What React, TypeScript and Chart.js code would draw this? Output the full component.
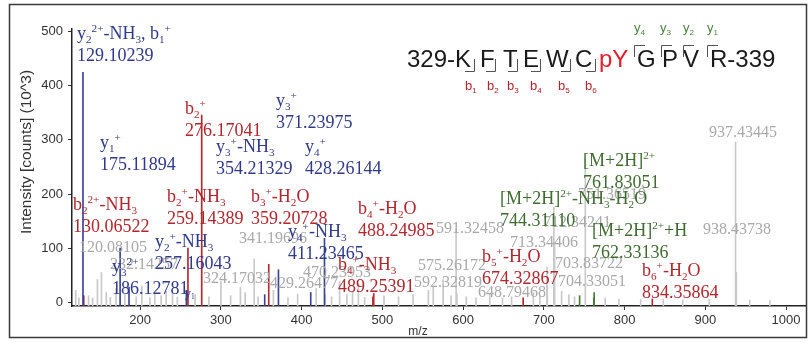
import React, { useEffect, useRef } from 'react';
import { Chart, registerables } from 'chart.js';
Chart.register(...registerables);

// ---------- axis ranges / ticks ----------
const X_MIN = 115.5;
const X_MAX = 1023.5;
const Y_MIN = -7;
const Y_MAX = 505;
const X_TICKS = [200, 300, 400, 500, 600, 700, 800, 900, 1000];
const Y_TICKS = [0, 100, 200, 300, 400, 500];

// ---------- peaks (m/z, intensity 10^3) ----------
const BLUE_MZ = [129.10239, 175.11894, 186.12781, 257.16043, 354.21329, 371.23975, 411.23465, 428.26144];
const BLUE_INT = [425, 100, 28, 22, 14, 60, 18, 118];

const RED_MZ = [130.06522, 259.14389, 276.17041, 359.20728, 488.24985, 489.25391, 674.32867, 834.35864];
const RED_INT = [12, 100, 346, 70, 10, 16, 8, 6];

const GREEN_MZ = [744.3111, 761.83051, 762.33136];
const GREEN_INT = [12, 8, 18];

const GRAY_MZ = [
  120.08105, 232.14257, 324.17032, 341.19696, 429.26477, 470.23953, 575.26172, 591.32458,
  592.32819, 648.79468, 703.83722, 704.33051, 712.34241, 713.34406, 751.36519, 937.43445, 938.43738,
  124, 136, 141, 147, 152, 158, 163, 170, 181, 195, 202, 212, 218, 226, 240, 246, 268, 285, 300,
  312, 330, 346, 365, 383, 395, 418, 437, 447, 456, 463, 478, 502, 520, 538, 557, 563, 585, 604,
  616, 633, 660, 687, 695, 722, 731, 738, 776, 793, 820, 848, 872, 905, 955, 980,
];
const GRAY_INT = [
  22, 20, 28, 80, 14, 35, 42, 135,
  16, 8, 65, 28, 175, 110, 265, 296, 55,
  8, 12, 8, 42, 55, 18, 9, 25, 14, 10, 30, 8, 16, 12, 20, 9, 14, 10, 38,
  12, 18, 10, 22, 8, 15, 25, 10, 38, 14, 20, 9, 12, 10, 14, 22, 30, 12, 10,
  8, 14, 10, 18, 12, 20, 14, 10, 8, 6, 5, 6, 4, 5, 4, 3,
];

// ---------- peak annotations: kind, text lines, anchor [m/z, intensity] ----------
type Lab = { kind: 'b' | 'r' | 'g' | 'x' | 's'; lines: string[]; at: [number, number] };
const LABELS: Lab[] = [
  { kind: 'x', lines: ['120.08105'], at: [124.2, 92.8] },
  { kind: 'x', lines: ['341.19696'], at: [322.4, 109.5] },
  { kind: 'x', lines: ['232.14257'], at: [162.6, 61.4] },
  { kind: 'x', lines: ['324.17032'], at: [277.8, 35.5] },
  { kind: 'x', lines: ['470.23953'], at: [401.7, 46.6] },
  { kind: 'x', lines: ['429.26477'], at: [360.8, 26.3] },
  { kind: 'x', lines: ['591.32458'], at: [566.4, 127.9] },
  { kind: 'x', lines: ['575.26172'], at: [544.1, 59.5] },
  { kind: 'x', lines: ['592.32819'], at: [539.2, 28.1] },
  { kind: 'x', lines: ['648.79468'], at: [618.4, 9.6] },
  { kind: 'x', lines: ['713.34406'], at: [658.1, 102.1] },
  { kind: 'x', lines: ['703.83722'], at: [713.8, 63.2] },
  { kind: 'x', lines: ['704.33051'], at: [717.5, 30.0] },
  { kind: 'x', lines: ['712.34241'], at: [699.0, 139.0] },
  { kind: 'x', lines: ['751.36519'], at: [742.3, 190.8] },
  { kind: 'x', lines: ['938.43738'], at: [897.2, 126.1] },
  { kind: 'x', lines: ['937.43445'], at: [904.6, 305.4] },
  { kind: 'b', lines: ['y_2^{2+}-NH_3, b_1^+', '129.10239'], at: [121.7, 486.5] },
  { kind: 'b', lines: ['y_1^+', '175.11894'], at: [150.2, 285.0] },
  { kind: 'r', lines: ['b_2^+', '276.17041'], at: [255.5, 347.9] },
  { kind: 'b', lines: ['y_3^+', '371.23975'], at: [368.2, 362.7] },
  { kind: 'b', lines: ['y_3^+-NH_3', '354.21329'], at: [293.9, 277.6] },
  { kind: 'b', lines: ['y_4^+', '428.26144'], at: [404.1, 277.6] },
  { kind: 'r', lines: ['b_2^{2+}-NH_3', '130.06522'], at: [116.7, 170.4] },
  { kind: 'r', lines: ['b_2^+-NH_3', '259.14389'], at: [233.2, 185.2] },
  { kind: 'r', lines: ['b_3^+-H_2O', '359.20728'], at: [337.2, 185.2] },
  { kind: 'b', lines: ['y_2^+-NH_3', '257.16043'], at: [218.3, 102.1] },
  { kind: 'b', lines: ['y_3^{2+}', '186.12781'], at: [165.1, 55.8] },
  { kind: 's', lines: ['y_1'], at: [255.5, 9.6] },
  { kind: 'b', lines: ['y_4^+-NH_3', '411.23465'], at: [383.1, 120.5] },
  { kind: 'r', lines: ['b_4^+-H_2O', '488.24985'], at: [469.8, 163.1] },
  { kind: 'r', lines: ['b_4^+-NH_3', '489.25391'], at: [445.0, 59.5] },
  { kind: 'r', lines: ['b_5^+-H_2O', '674.32867'], at: [623.4, 74.3] },
  { kind: 'g', lines: ['[M+2H]^{2+}-NH_3-H_2O', '744.31110'], at: [645.7, 181.5] },
  { kind: 'g', lines: ['[M+2H]^{2+}', '761.83051'], at: [748.5, 251.8] },
  { kind: 'g', lines: ['[M+2H]^{2+}+H', '762.33136'], at: [759.7, 122.4] },
  { kind: 'r', lines: ['b_6^+-H_2O', '834.35864'], at: [821.6, 48.5] },
];

// ---------- peptide sequence ----------
const SEQ_TOKENS = ['329-K', 'F', 'T', 'E', 'W', 'C', 'pY', 'G', 'P', 'V', 'R-339'];
const B_IONS = ['b_1', 'b_2', 'b_3', 'b_4', 'b_5', 'b_6'];
const Y_IONS = ['y_4', 'y_3', 'y_2', 'y_1'];

// ---------- layout / style ----------
const W = 808;
const H = 342;
const SEQ_X = [407, 480, 503, 523, 546, 575, 599, 637, 662, 683, 710];
const B_BRACKET_X = [474, 495, 517, 540, 570, 595];
const B_LABEL_X = [465, 487, 507, 530, 558, 585];
const Y_BRACKET_X = [634, 661, 683, 707];
const Y_LABEL_X = [634, 660, 683, 707];
const COL = { b: '#2f3a8c', r: '#b3262c', g: '#3f6d30', x: '#a9a9a9', s: '#2f3a8c' };
const PEAK_COL = { b: '#3a4597', r: '#b8282d', g: '#4b7a3a', x: '#c9c9c9' };
const SERIF = '"Liberation Serif", "DejaVu Serif", serif';
const SANS = '"Liberation Sans", Arial, sans-serif';

function drawRich(ctx: CanvasRenderingContext2D, text: string, x: number, y: number, size: number, family: string) {
  const segs: { t: string; m: string }[] = [];
  let i = 0;
  while (i < text.length) {
    const c = text[i];
    if (c === '_' || c === '^') {
      let t: string;
      if (text[i + 1] === '{') {
        const j = text.indexOf('}', i + 2);
        t = text.slice(i + 2, j);
        i = j + 1;
      } else {
        t = text[i + 1];
        i += 2;
      }
      segs.push({ t, m: c });
    } else {
      let j = i;
      while (j < text.length && text[j] !== '_' && text[j] !== '^') j++;
      segs.push({ t: text.slice(i, j), m: 'n' });
      i = j;
    }
  }
  let cx = x;
  for (const s of segs) {
    const fs = s.m === 'n' ? size : size * 0.62;
    const dy = s.m === '_' ? size * 0.2 : s.m === '^' ? -size * 0.4 : 0;
    ctx.font = `${fs}px ${family}`;
    ctx.fillText(s.t, cx, y + dy);
    cx += ctx.measureText(s.t).width;
  }
}

const annotPlugin = {
  id: 'annot',
  afterDatasetsDraw(chart: any) {
    const ctx: CanvasRenderingContext2D = chart.ctx;
    const xs = chart.scales.x;
    const ys = chart.scales.y;
    ctx.save();
    ctx.textAlign = 'left';
    ctx.textBaseline = 'alphabetic';
    const order = ['x', 's', 'b', 'r', 'g'];
    for (const k of order) {
      for (const L of LABELS) {
        if (L.kind !== k) continue;
        const px = xs.getPixelForValue(L.at[0]);
        const py = ys.getPixelForValue(L.at[1]);
        const size = L.kind === 'x' ? 16 : L.kind === 's' ? 12 : 18;
        ctx.fillStyle = (COL as any)[L.kind];
        L.lines.forEach((ln, idx) => drawRich(ctx, ln, px, py + idx * 22, size, SERIF));
      }
    }
    ctx.restore();
  },
  afterDraw(chart: any) {
    const ctx: CanvasRenderingContext2D = chart.ctx;
    ctx.save();
    // frame
    ctx.strokeStyle = '#3a3a3a';
    ctx.lineWidth = 1.5;
    ctx.strokeRect(9.5, 4.5, 797, 333);
    // y title
    ctx.fillStyle = '#333';
    ctx.font = `15.5px ${SANS}`;
    ctx.textAlign = 'center';
    ctx.textBaseline = 'alphabetic';
    ctx.translate(31, 152);
    ctx.rotate(-Math.PI / 2);
    ctx.fillText('Intensity [counts] (10^3)', 0, 0);
    ctx.setTransform(1, 0, 0, 1, 0, 0);
    // x title
    ctx.font = `12px ${SANS}`;
    ctx.fillText('m/z', 418, 335);
    // peptide
    ctx.textAlign = 'left';
    ctx.font = `24px ${SANS}`;
    SEQ_TOKENS.forEach((t, i) => {
      ctx.fillStyle = t === 'pY' ? '#e3202b' : '#1a1a1a';
      ctx.fillText(t, SEQ_X[i], 67);
    });
    ctx.strokeStyle = '#555';
    ctx.lineWidth = 1;
    B_BRACKET_X.forEach((bx) => {
      ctx.beginPath();
      ctx.moveTo(bx + 0.5, 59);
      ctx.lineTo(bx + 0.5, 71.5);
      ctx.lineTo(bx - 9, 71.5);
      ctx.stroke();
    });
    Y_BRACKET_X.forEach((yx) => {
      ctx.beginPath();
      ctx.moveTo(yx + 0.5, 57);
      ctx.lineTo(yx + 0.5, 45.5);
      ctx.lineTo(yx + 11, 45.5);
      ctx.stroke();
    });
    ctx.fillStyle = '#b3262c';
    B_IONS.forEach((t, i) => drawRich(ctx, t, B_LABEL_X[i], 90, 13, SANS));
    ctx.fillStyle = '#4a863c';
    Y_IONS.forEach((t, i) => drawRich(ctx, t, Y_LABEL_X[i], 32, 13, SANS));
    ctx.restore();
  },
};

function pts(mz: number[], v: number[]) {
  return mz.map((m, i) => ({ x: m, y: v[i] }));
}

export default function App() {
  const ref = useRef<HTMLCanvasElement>(null);
  useEffect(() => {
    const common = { grouped: false, base: Y_MIN, borderWidth: 0, barThickness: 1 };
    const chart = new Chart(ref.current!, {
      type: 'bar',
      data: {
        datasets: [
          { ...common, data: pts(BLUE_MZ, BLUE_INT), backgroundColor: PEAK_COL.b, order: 1 },
          { ...common, data: pts(RED_MZ, RED_INT), backgroundColor: PEAK_COL.r, order: 1 },
          { ...common, data: pts(GREEN_MZ, GREEN_INT), backgroundColor: PEAK_COL.g, order: 1 },
          { ...common, data: pts(GRAY_MZ, GRAY_INT), backgroundColor: PEAK_COL.x, order: 2 },
        ] as any,
      },
      options: {
        responsive: false,
        devicePixelRatio: 1,
        animation: false,
        layout: { padding: { top: 29, right: 3, bottom: 0, left: 0 } },
        plugins: { legend: { display: false }, tooltip: { enabled: false } },
        scales: {
          x: {
            type: 'linear',
            min: X_MIN,
            max: X_MAX,
            offset: false,
            afterBuildTicks: (s: any) => { s.ticks = X_TICKS.map((v) => ({ value: v })); },
            afterFit: (s: any) => { s.height = 36; },
            grid: { offset: false, drawOnChartArea: false, drawTicks: true, tickLength: 4, color: '#333' },
            border: { display: true, color: '#222', width: 1.5 },
            ticks: {
              color: '#333',
              font: { family: SANS, size: 13 },
              padding: 3,
              maxRotation: 0,
              callback: (v: any) => String(v),
            },
          },
          y: {
            type: 'linear',
            min: Y_MIN,
            max: Y_MAX,
            afterBuildTicks: (s: any) => { s.ticks = Y_TICKS.map((v) => ({ value: v })); },
            afterFit: (s: any) => { s.width = 72; },
            grid: { drawOnChartArea: false, drawTicks: true, tickLength: 4, color: '#333' },
            border: { display: true, color: '#222', width: 1.5 },
            ticks: { color: '#333', font: { family: SANS, size: 13 }, padding: 5, callback: (v: any) => String(v) },
          },
        },
      } as any,
      plugins: [annotPlugin],
    });
    return () => chart.destroy();
  }, []);
  return (
    <div style={{ position: 'fixed', left: 0, top: 0, width: W, height: H, background: '#fff' }}>
      <canvas ref={ref} width={W} height={H} style={{ width: W, height: H, display: 'block' }} />
    </div>
  );
}
